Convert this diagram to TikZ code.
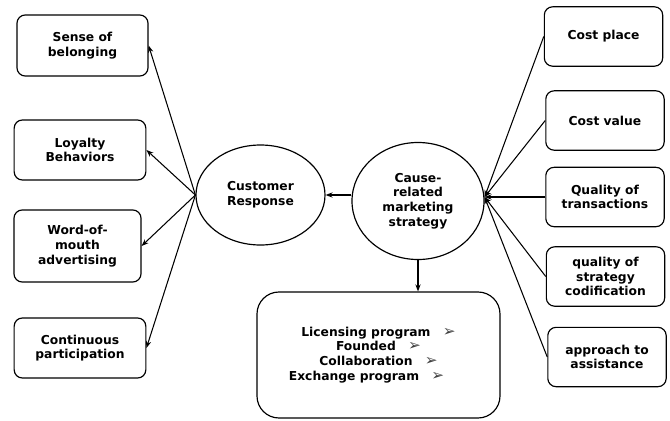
\documentclass[tikz,border=0pt]{standalone}
\usepackage{fontspec}
\setmainfont{DejaVu Sans}
\usetikzlibrary{shapes.geometric,arrows.meta}
\tikzset{
  box/.style={draw, line width=1pt, rounded corners=7pt, align=center, inner sep=2pt},
  lbox/.style={box, minimum width=3.95cm, minimum height=1.8cm},
  rbox/.style={box, minimum width=3.55cm, minimum height=1.78cm},
  oval/.style={draw, ellipse, line width=1pt, align=center, inner sep=0pt},
}
\newcommand{\tip}{{\mdseries\fontsize{13}{12.6}\selectfont\color{black!75}➢}}
\begin{document}
\begin{tikzpicture}[x=0.03cm, y=-0.03cm, font=\bfseries\fontsize{10.5}{12.6}\selectfont, line join=round, >={Stealth[length=6pt,width=4.5pt]}]
\useasboundingbox (0,0) rectangle (670,421);
% left side
\node[lbox, minimum width=3.93cm, minimum height=1.83cm] (sense) at (82.5,45.5) {Sense of\\belonging};
\node[lbox] (loyal) at (80,150) {Loyalty\\Behaviors};
\node[lbox, minimum width=3.81cm, minimum height=2.16cm] (word) at (77.5,246) {Word-of-\\mouth\\advertising};
\node[lbox] (contin) at (80,348) {Continuous\\participation};
% middle
\node[oval, minimum width=3.87cm, minimum height=3cm] (resp) at (260.5,195) {Customer\\Response};
\node[oval, minimum width=3.96cm, minimum height=3.51cm] (cause) at (418,201) {Cause-\\related\\marketing\\strategy};
\node[box, rounded corners=0.66cm, minimum width=7.29cm, minimum height=3.78cm] (prog) at (378.5,355)
  {Licensing program\quad\tip\\Founded\quad\tip\hspace*{0.72cm}\\Collaboration\quad\tip\hspace*{0.72cm}\\Exchange program\quad\tip\hspace*{0.72cm}};
% right side
\node[rbox] (costplace) at (603.5,36.5) {Cost place};
\node[rbox] (costvalue) at (605,120.5) {Cost value};
\node[rbox] (qualtrans) at (605,197) {Quality of\\transactions};
\node[rbox] (qualstrat) at (605.5,276.5) {quality of\\strategy\\codification};
\node[rbox] (approach) at (607,357) {approach to\\assistance};
\coordinate (hub) at (cause.east |- qualtrans.west);
% connectors
\begin{scope}[line width=0.9pt]
\draw[->] (cause.west |- resp.east) -- (resp.east);
\draw[->] (cause.south) -- (cause.south |- prog.north);
\foreach \n in {sense,loyal,word,contin}{\draw[->] (resp.west) -- (\n.east);}
\foreach \n in {costplace,costvalue,qualtrans,qualstrat,approach}{\draw[->] (\n.west) -- (hub);}
\end{scope}
\end{tikzpicture}
\end{document}
